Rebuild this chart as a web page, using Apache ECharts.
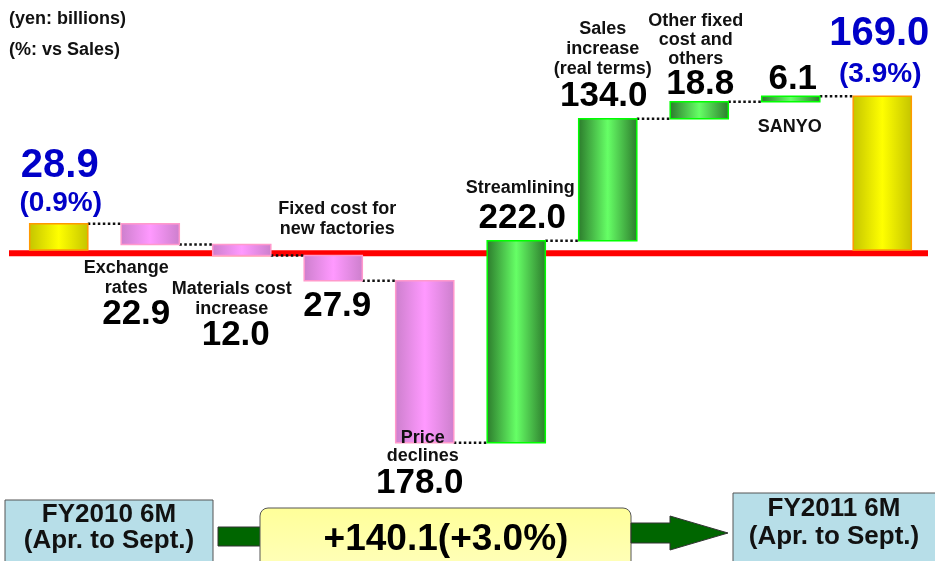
<!DOCTYPE html>
<html><head><meta charset="utf-8">
<script src="https://cdn.jsdelivr.net/npm/echarts@6/dist/echarts.min.js"></script>
<style>html,body{margin:0;padding:0;background:#fff}#c{width:935px;height:561px}</style>
</head><body><div id="c"></div>
<script>
// ---- data ----
const categories = ['FY2010 6M', 'Exchange rates', 'Materials cost increase', 'Fixed cost for new factories',
  'Price declines', 'Streamlining', 'Sales increase (real terms)', 'Other fixed cost and others', 'SANYO', 'FY2011 6M'];
const stepNames = ['', 'Exchange\nrates', 'Materials cost\nincrease', 'Fixed cost for\nnew factories',
  'Price\ndeclines', 'Streamlining', 'Sales\nincrease\n(real terms)', 'Other fixed\ncost and\nothers', 'SANYO', ''];
const startValue = 28.9;
const endValue = 169.0;
const changes = [-22.9, -12.0, -27.9, -178.0, 222.0, 134.0, 18.8, 6.1];
const startPct = '(0.9%)';
const endPct = '(3.9%)';
const totalChange = '+140.1(+3.0%)';
const periodStart = ['FY2010 6M', '(Apr. to Sept.)'];
const periodEnd = ['FY2011 6M', '(Apr. to Sept.)'];
const unitNotes = ['(yen: billions)', '(%: vs Sales)'];

// ---- derived waterfall spans: [index, low, high] ----
const spans = [];
const kinds = [];
const valueTexts = [];
const levels = []; // running total after each bar
let run = startValue;
spans.push([0, 0, startValue]); kinds.push('total'); valueTexts.push(startValue.toFixed(1)); levels.push(startValue);
changes.forEach((c, i) => {
  const a = run, b = run + c;
  spans.push([i + 1, Math.min(a, b), Math.max(a, b)]);
  kinds.push(c < 0 ? 'down' : 'up');
  valueTexts.push(Math.abs(c).toFixed(1));
  run = b; levels.push(b);
});
spans.push([categories.length - 1, 0, endValue]); kinds.push('total'); valueTexts.push(endValue.toFixed(1)); levels.push(endValue);
const connectors = [];
for (let i = 0; i < categories.length - 1; i++) connectors.push([i, levels[i]]);
const pctTexts = {0: startPct, 9: endPct};

// ---- label layout (style only): [anchor, dx, dy] ----
const layout = [
  {value: ['top', 1, -58], pct: ['top', 2, -20]},
  {name: ['bottom', -24, 33.5], value: ['bottom', -14, 70]},
  {name: ['bottom', -10, 44], value: ['bottom', -6, 80]},
  {name: ['top', 4, -36], value: ['bottom', 4, 25]},
  {name: ['bottom', -2, 4, 18], value: ['bottom', -5, 41]},
  {name: ['top', 4, -53], value: ['top', 6, -22]},
  {name: ['top', -5, -70], value: ['top', -4, -23]},
  {name: ['top', -3.5, -62, 19], value: ['top', 1, -17]},
  {name: ['bottom', -1, 25], value: ['top', 2, -17]},
  {value: ['top', -3, -62], pct: ['top', -2, -22]}
];

const FONT = "'Liberation Sans', Arial, sans-serif";
const grad = (edge, mid) => new echarts.graphic.LinearGradient(0, 0, 1, 0, [
  {offset: 0, color: edge}, {offset: 0.5, color: mid}, {offset: 1, color: edge}]);
const barStyle = {
  total: {fill: grad('#C4C400', '#FFFF00'), stroke: '#FF9900'},
  down: {fill: grad('#CC7FCC', '#FF99FF'), stroke: '#FF99CC'},
  up: {fill: grad('#2C7A2C', '#66FF66'), stroke: '#00FF00'}
};

const chart = echarts.init(document.getElementById('c'));
chart.setOption({
  animation: false,
  grid: {left: 13, right: 7, top: 22.5, height: 455},
  xAxis: {type: 'category', data: categories, show: false},
  yAxis: {type: 'value', min: -250, max: 250, show: false},
  graphic: [
    {type: 'text', left: 9, top: 10, style: {text: unitNotes[0], font: 'bold 18px ' + FONT, fill: '#111'}},
    {type: 'text', left: 9, top: 41, style: {text: unitNotes[1], font: 'bold 18px ' + FONT, fill: '#111'}},
    {type: 'rect', shape: {x: 5, y: 500, width: 208, height: 66}, style: {fill: '#B7DEE8', stroke: '#555', lineWidth: 1}},
    {type: 'text', x: 109, y: 515, style: {text: periodStart[0], font: 'bold 26px ' + FONT, fill: '#111', align: 'center', verticalAlign: 'middle'}},
    {type: 'text', x: 109, y: 541, style: {text: periodStart[1], font: 'bold 26px ' + FONT, fill: '#111', align: 'center', verticalAlign: 'middle'}},
    {type: 'rect', shape: {x: 218, y: 527, width: 44, height: 19}, style: {fill: '#006600', stroke: '#333', lineWidth: 1}},
    {type: 'rect', shape: {x: 260, y: 508, width: 371, height: 62, r: 8},
      style: {fill: new echarts.graphic.LinearGradient(0, 0, 0, 1, [{offset: 0, color: '#FFFF99'}, {offset: 1, color: '#FFFFBB'}]), stroke: '#555', lineWidth: 1}},
    {type: 'text', x: 446, y: 540, style: {text: totalChange, font: 'bold 37px ' + FONT, fill: '#000', align: 'center', verticalAlign: 'middle'}},
    {type: 'polygon', shape: {points: [[631, 523], [670, 523], [670, 516], [728, 533], [670, 550], [670, 543], [631, 543]]},
      style: {fill: '#006600', stroke: '#333', lineWidth: 1}},
    {type: 'rect', shape: {x: 733, y: 493, width: 204, height: 72}, style: {fill: '#B7DEE8', stroke: '#555', lineWidth: 1}},
    {type: 'text', x: 834, y: 509, style: {text: periodEnd[0], font: 'bold 26px ' + FONT, fill: '#111', align: 'center', verticalAlign: 'middle'}},
    {type: 'text', x: 834, y: 537, style: {text: periodEnd[1], font: 'bold 26px ' + FONT, fill: '#111', align: 'center', verticalAlign: 'middle'}}
  ],
  series: [
    {
      type: 'custom', z: 1, silent: true,
      data: [[0, 0]],
      renderItem(params, api) {
        const cs = params.coordSys;
        const y = api.coord([0, 0])[1] + 3.3;
        return {type: 'line', shape: {x1: cs.x - 4, y1: y, x2: cs.x + cs.width, y2: y}, style: {stroke: '#FF0000', lineWidth: 6}};
      }
    },
    {
      type: 'custom', z: 2, silent: true,
      data: connectors,
      renderItem(params, api) {
        const i = api.value(0), v = api.value(1);
        const half = api.size([1, 0])[0] * 0.635 / 2;
        const a = api.coord([i, v]), b = api.coord([i + 1, v]);
        return {type: 'line', shape: {x1: a[0] + half, y1: a[1], x2: b[0] - half, y2: a[1]},
          style: {stroke: '#111', lineWidth: 2.5, lineDash: [2.5, 2.5]}};
      }
    },
    {
      type: 'custom', z: 3, silent: true,
      data: spans,
      renderItem(params, api) {
        const idx = params.dataIndex;
        const i = api.value(0), lo = api.value(1), hi = api.value(2);
        const top = api.coord([i, hi]), bot = api.coord([i, lo]);
        const w = api.size([1, 0])[0] * 0.635;
        const st = barStyle[kinds[idx]];
        const children = [{type: 'rect', shape: {x: top[0] - w / 2, y: top[1], width: w, height: Math.max(bot[1] - top[1], 1)},
          style: {fill: st.fill, stroke: st.stroke, lineWidth: 1.5}}];
        const L = layout[idx];
        const place = (spec) => [top[0] + spec[1], (spec[0] === 'top' ? top[1] : bot[1]) + spec[2]];
        const isTotal = kinds[idx] === 'total';
        if (L.name && stepNames[idx]) {
          const p = place(L.name);
          children.push({type: 'text', x: p[0], y: p[1], z2: 10, style: {text: stepNames[idx], fill: '#111',
            font: 'bold 18px ' + FONT, lineHeight: L.name[3] || 20, align: 'center', verticalAlign: 'middle'}});
        }
        if (L.value) {
          const p = place(L.value);
          children.push({type: 'text', x: p[0], y: p[1], z2: 10, style: {text: valueTexts[idx], fill: isTotal ? '#0000C8' : '#000',
            font: 'bold ' + (isTotal ? 40 : 35) + 'px ' + FONT, align: 'center', verticalAlign: 'middle'}});
        }
        if (L.pct && pctTexts[idx]) {
          const p = place(L.pct);
          children.push({type: 'text', x: p[0], y: p[1], z2: 10, style: {text: pctTexts[idx], fill: '#0000C8',
            font: 'bold 28px ' + FONT, align: 'center', verticalAlign: 'middle'}});
        }
        return {type: 'group', children};
      }
    }
  ]
});
</script></body></html>
